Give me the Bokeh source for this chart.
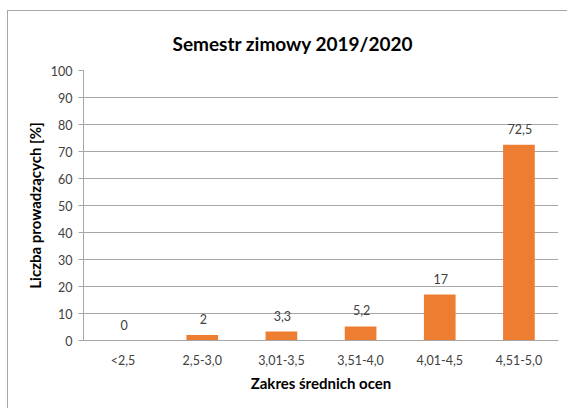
from bokeh.plotting import figure
from bokeh.models import ColumnDataSource, FixedTicker, Range1d, LabelSet
from bokeh.embed import file_html
from bokeh.resources import INLINE
from bokeh.core.properties import value

categories = ["<2,5", "2,5-3,0", "3,01-3,5", "3,51-4,0", "4,01-4,5", "4,51-5,0"]
values = [0, 2, 3.3, 5.2, 17, 72.5]
value_labels = ["0", "2", "3,3", "5,2", "17", "72,5"]
y_ticks = [0, 10, 20, 30, 40, 50, 60, 70, 80, 90, 100]

src = ColumnDataSource(dict(cat=categories, val=values, lab=value_labels))

FONT = "Lato"
p = figure(x_range=categories, y_range=Range1d(0, 100), width=560, height=398,
           output_backend="svg", toolbar_location=None,
           title="Semestr zimowy 2019/2020",
           min_border_left=75, min_border_right=10, min_border_top=59, min_border_bottom=69)
p.styles = {"border-left": "1px solid #a6a6a6", "border-top": "1px solid #a6a6a6",
            "margin-top": "10px", "margin-left": "7px"}

p.vbar(x="cat", top="val", width=0.4, source=src, color="#ED7D31", line_color=None)
labels = LabelSet(x="cat", y="val", text="lab", source=src, text_align="center",
                  text_baseline="bottom", y_offset=11, x_offset=1, text_font_size="12.5px",
                  text_color="#404040", text_font=value(FONT))
p.add_layout(labels)

p.title.align = "left"
p.title.text_font = FONT
p.title.text_font_size = "19px"
p.title.text_font_style = "bold"
p.title.text_color = "#000000"
p.title.standoff = 32
p.title.offset = 89

p.outline_line_color = None
p.xgrid.grid_line_color = None
p.ygrid.grid_line_color = "#a6a6a6"
p.ygrid.grid_line_width = 1

p.yaxis.ticker = FixedTicker(ticks=y_ticks)
p.yaxis.axis_label = "Liczba prowadzących [%]"
p.xaxis.axis_label = "Zakres średnich ocen"
for ax in (p.xaxis, p.yaxis):
    ax.axis_label_text_font = FONT
    ax.axis_label_text_font_size = "15px"
    ax.axis_label_text_font_style = "bold"
    ax.axis_label_text_color = "#000000"
    ax.major_label_text_font = FONT
    ax.major_label_text_font_size = "12.5px"
    ax.major_label_text_color = "#404040"
    ax.axis_line_color = "#a6a6a6"
    ax.major_tick_line_color = "#a6a6a6"
    ax.minor_tick_line_color = None
p.yaxis.major_tick_in = 0
p.yaxis.major_tick_out = 5
p.yaxis.major_label_standoff = 6
p.xaxis.major_tick_in = 0
p.xaxis.major_tick_out = 0
p.xaxis.major_label_standoff = 12
p.xaxis.axis_label_standoff = 3
p.yaxis.axis_label_standoff = 4
p.x_range.range_padding = 0

open("out.html", "w").write(file_html(p, INLINE))
